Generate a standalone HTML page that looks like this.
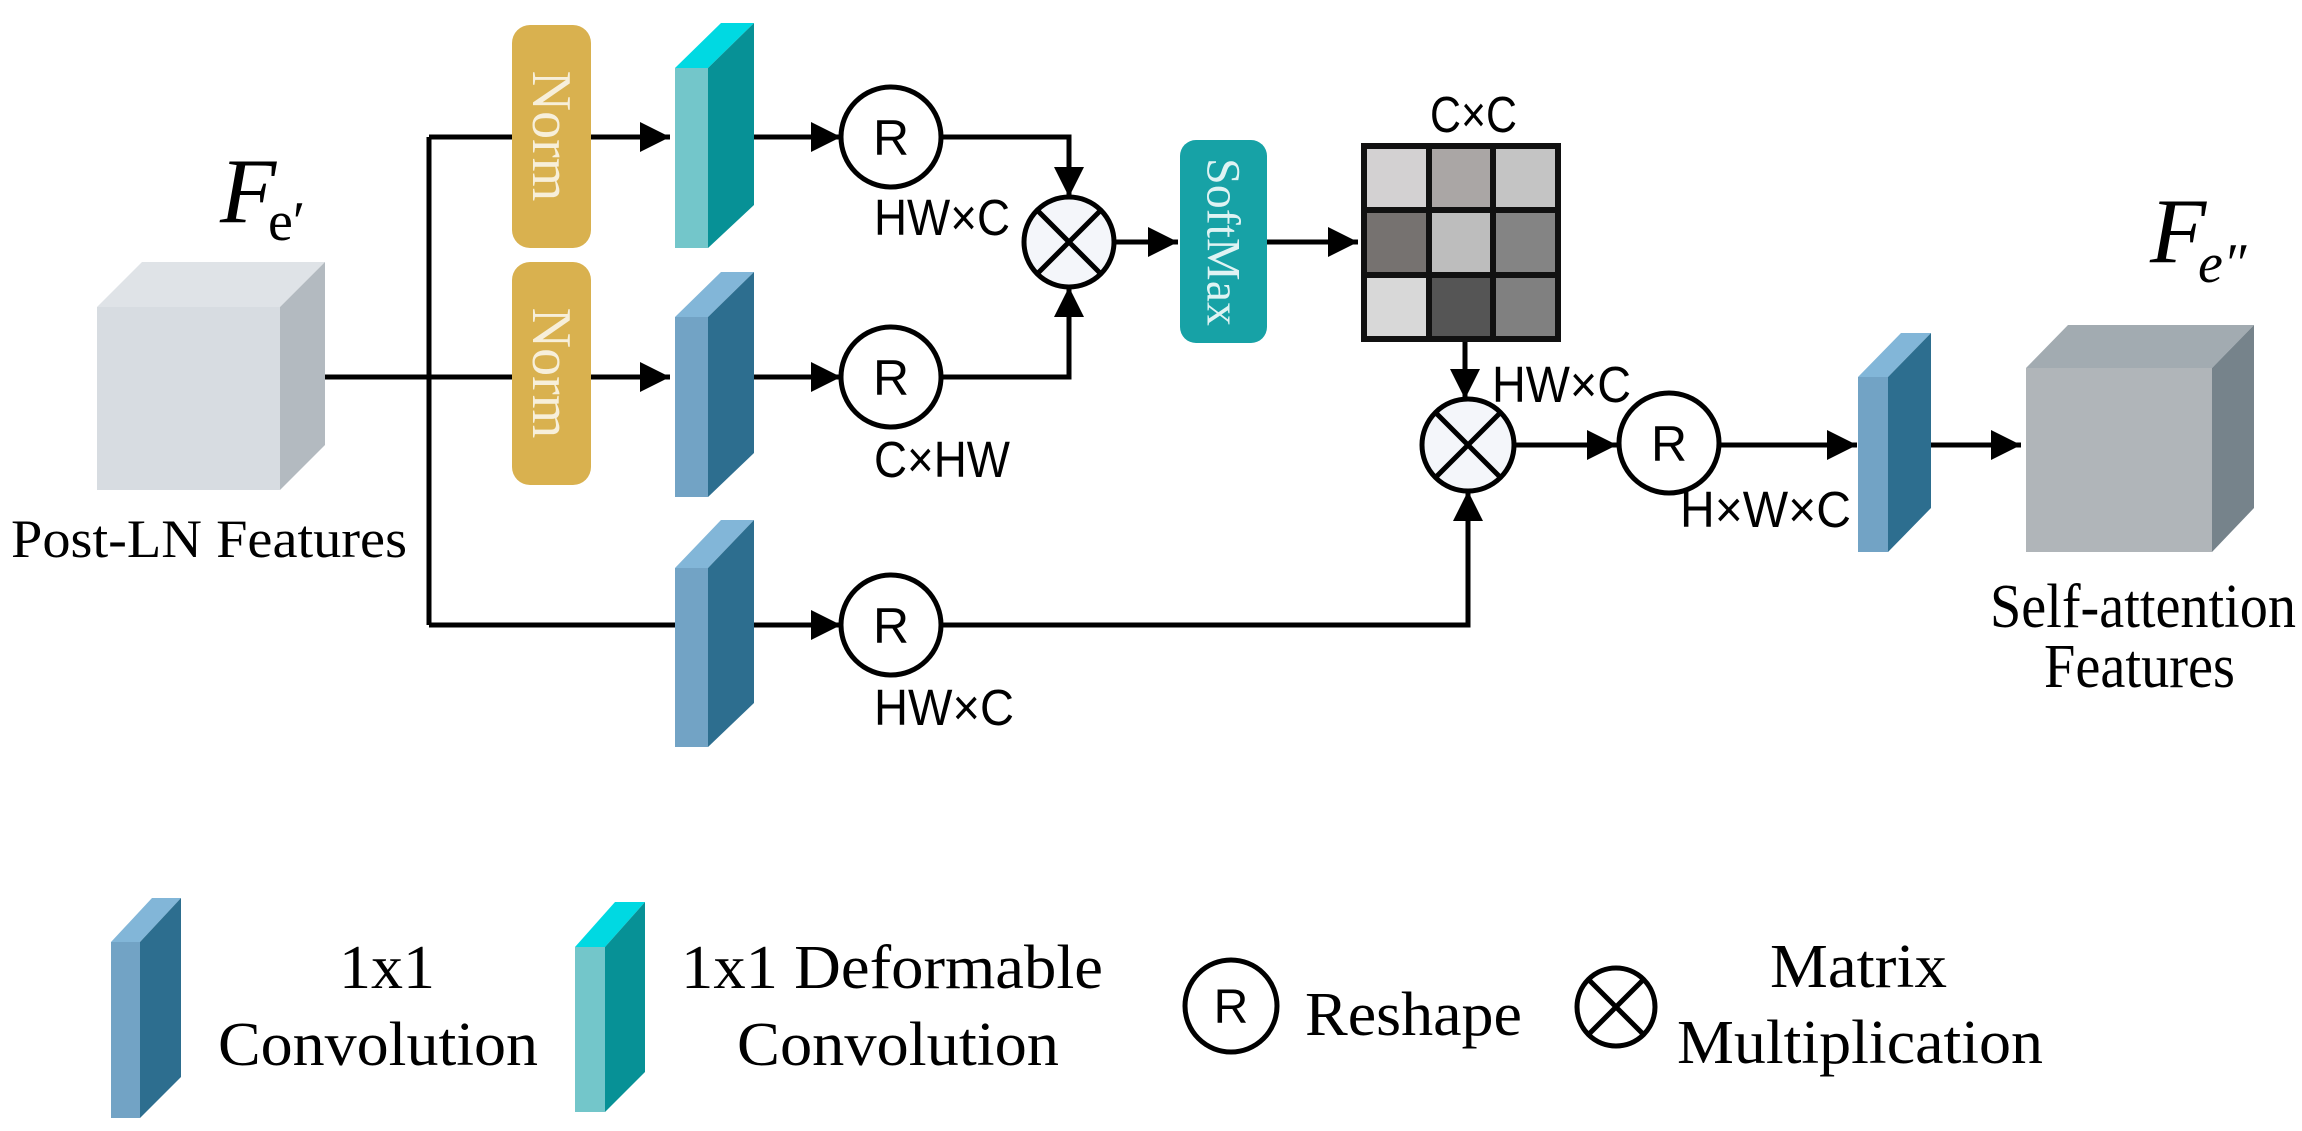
<!DOCTYPE html>
<html><head><meta charset="utf-8"><style>
html,body{margin:0;padding:0;background:#fff}
svg{display:block}
.s{font-family:"Liberation Sans Narrow","Liberation Sans",sans-serif}
.r{font-family:"Liberation Serif",serif}
</style></head><body>
<svg width="2302" height="1131" viewBox="0 0 2302 1131" xmlns="http://www.w3.org/2000/svg">
<rect width="2302" height="1131" fill="#fff"/>
<g stroke="#000" stroke-width="5" fill="none">
<path d="M280 377H670M429 137V625M429 137H670M429 625H676"/>
<path d="M754 137H841M754 377H841M754 625H841"/>
<path d="M941 137H1069V197M941 377H1069V287M1114 242H1178M1267 242H1358"/>
<path d="M1465 339V399M941 625H1468V491M1514 445H1617M1720 445H1857M1931 445H2021"/>
</g>
<g fill="#000">
<polygon points="640,122 670,137 640,152"/>
<polygon points="640,362 670,377 640,392"/>
<polygon points="811,122 841,137 811,152"/>
<polygon points="811,362 841,377 811,392"/>
<polygon points="811,610 841,625 811,640"/>
<polygon points="1054,167 1069,197 1084,167"/>
<polygon points="1054,317 1069,287 1084,317"/>
<polygon points="1148,227 1178,242 1148,257"/>
<polygon points="1328,227 1358,242 1328,257"/>
<polygon points="1450,369 1465,399 1480,369"/>
<polygon points="1453,521 1468,491 1483,521"/>
<polygon points="1587,430 1617,445 1587,460"/>
<polygon points="1827,430 1857,445 1827,460"/>
<polygon points="1991,430 2021,445 1991,460"/>
</g>
<polygon points="97,307 142,262 325,262 280,307" fill="#dfe3e7"/>
<polygon points="280,307 325,262 325,445 280,490" fill="#b3bac0"/>
<rect x="97" y="307" width="183" height="183" fill="#d7dce1"/>
<rect x="512" y="25" width="79" height="223" rx="18" fill="#d9b14f"/>
<rect x="512" y="262" width="79" height="223" rx="18" fill="#d9b14f"/>
<text class="r" transform="translate(551,136) rotate(90)" text-anchor="middle" dominant-baseline="central" font-size="56" fill="#f7efda">Norm</text>
<text class="r" transform="translate(551,373) rotate(90)" text-anchor="middle" dominant-baseline="central" font-size="56" fill="#f7efda">Norm</text>
<polygon points="675,68 721,23 754,23 708,68" fill="#00d9e2"/>
<polygon points="708,68 754,23 754,205 708,248" fill="#079196"/>
<rect x="675" y="68" width="33" height="180" fill="#73c6ca"/>
<polygon points="675,317 721,272 754,272 708,317" fill="#82b6d8"/>
<polygon points="708,317 754,272 754,453 708,497" fill="#2d6e8f"/>
<rect x="675" y="317" width="33" height="180" fill="#72a3c5"/>
<polygon points="675,568 721,520 754,520 708,568" fill="#82b6d8"/>
<polygon points="708,568 754,520 754,703 708,747" fill="#2d6e8f"/>
<rect x="675" y="568" width="33" height="179" fill="#72a3c5"/>
<g stroke="#000" stroke-width="5" fill="#fff">
<circle cx="891" cy="137" r="50"/>
<circle cx="891" cy="377" r="50"/>
<circle cx="891" cy="625" r="50"/>
<circle cx="1669" cy="443" r="50"/>
</g>
<g class="s" font-size="50" text-anchor="middle">
<text x="891" y="155">R</text>
<text x="891" y="395">R</text>
<text x="891" y="643">R</text>
<text x="1669" y="461">R</text>
</g>
<g stroke="#000" stroke-width="5" fill="#f4f6fa">
<circle cx="1069" cy="242" r="45"/>
<path d="M1037 210L1101 274M1101 210L1037 274"/>
<circle cx="1468" cy="445" r="46"/>
<path d="M1435 412L1501 478M1501 412L1435 478"/>
</g>
<rect x="1180" y="140" width="87" height="203" rx="16" fill="#17a2a6"/>
<text class="r" transform="translate(1223,242) rotate(90)" text-anchor="middle" dominant-baseline="central" font-size="48" fill="#dff3f3">SoftMax</text>
<g>
<rect x="1364" y="146" width="65" height="64" fill="#d3d1d2"/>
<rect x="1429" y="146" width="64" height="64" fill="#aaa6a5"/>
<rect x="1493" y="146" width="65" height="64" fill="#c4c4c4"/>
<rect x="1364" y="210" width="65" height="65" fill="#767270"/>
<rect x="1429" y="210" width="64" height="65" fill="#bdbdbd"/>
<rect x="1493" y="210" width="65" height="65" fill="#848484"/>
<rect x="1364" y="275" width="65" height="64" fill="#d8d8d8"/>
<rect x="1429" y="275" width="64" height="64" fill="#555"/>
<rect x="1493" y="275" width="65" height="64" fill="#808080"/>
<path d="M1364 146H1558V339H1364ZM1429 146V339M1493 146V339M1364 210H1558M1364 275H1558" stroke="#111" stroke-width="6" fill="none"/>
</g>
<polygon points="1858,377 1901,333 1931,333 1888,377" fill="#82b6d8"/>
<polygon points="1888,377 1931,333 1931,508 1888,552" fill="#2d6e8f"/>
<rect x="1858" y="377" width="30" height="175" fill="#72a3c5"/>
<polygon points="2026,368 2068,325 2254,325 2212,368" fill="#a2abb1"/>
<polygon points="2212,368 2254,325 2254,508 2212,552" fill="#76838b"/>
<rect x="2026" y="368" width="186" height="184" fill="#b0b5b9"/>
<g class="s" font-size="51">
<text x="1430" y="132" textLength="87" lengthAdjust="spacingAndGlyphs">C×C</text>
<text x="874" y="235" textLength="136" lengthAdjust="spacingAndGlyphs">HW×C</text>
<text x="874" y="477" textLength="136" lengthAdjust="spacingAndGlyphs">C×HW</text>
<text x="874" y="725" textLength="140" lengthAdjust="spacingAndGlyphs">HW×C</text>
<text x="1492" y="402" textLength="139" lengthAdjust="spacingAndGlyphs">HW×C</text>
<text x="1680" y="527" textLength="171" lengthAdjust="spacingAndGlyphs">H×W×C</text>
</g>
<g class="r">
<text x="220" y="222" font-size="92" font-style="italic">F</text>
<text x="268" y="240" font-size="56">e′</text>
<text x="2150" y="262" font-size="92" font-style="italic">F</text>
<text x="2198" y="282" font-size="56" font-style="italic">e″</text>
<text x="11" y="557" font-size="54" textLength="396" lengthAdjust="spacingAndGlyphs">Post-LN Features</text>
<text x="1990" y="627" font-size="62" textLength="306" lengthAdjust="spacingAndGlyphs">Self-attention</text>
<text x="2044" y="687" font-size="62" textLength="191" lengthAdjust="spacingAndGlyphs">Features</text>
</g>
<polygon points="111,942 152,898 181,898 140,942" fill="#82b6d8"/>
<polygon points="140,942 181,898 181,1077 140,1118" fill="#2d6e8f"/>
<rect x="111" y="942" width="29" height="176" fill="#72a3c5"/>
<polygon points="575,947 615,902 645,902 605,947" fill="#00d9e2"/>
<polygon points="605,947 645,902 645,1072 605,1112" fill="#079196"/>
<rect x="575" y="947" width="30" height="165" fill="#73c6ca"/>
<circle cx="1231" cy="1006" r="46" stroke="#000" stroke-width="5" fill="#fff"/>
<text class="s" x="1231" y="1023" font-size="48" text-anchor="middle">R</text>
<g stroke="#000" stroke-width="5" fill="#fff">
<circle cx="1616" cy="1007" r="39"/>
<path d="M1588 979L1644 1035M1644 979L1588 1035"/>
</g>
<g class="r" font-size="62">
<text x="339" y="988" textLength="96" lengthAdjust="spacingAndGlyphs">1x1</text>
<text x="218" y="1065" textLength="320" lengthAdjust="spacingAndGlyphs">Convolution</text>
<text x="681" y="988" textLength="422" lengthAdjust="spacingAndGlyphs">1x1 Deformable</text>
<text x="737" y="1065" textLength="322" lengthAdjust="spacingAndGlyphs">Convolution</text>
<text x="1305" y="1035" textLength="217" lengthAdjust="spacingAndGlyphs">Reshape</text>
<text x="1770" y="987" textLength="177" lengthAdjust="spacingAndGlyphs">Matrix</text>
<text x="1677" y="1063" textLength="366" lengthAdjust="spacingAndGlyphs">Multiplication</text>
</g>
</svg>
</body></html>
